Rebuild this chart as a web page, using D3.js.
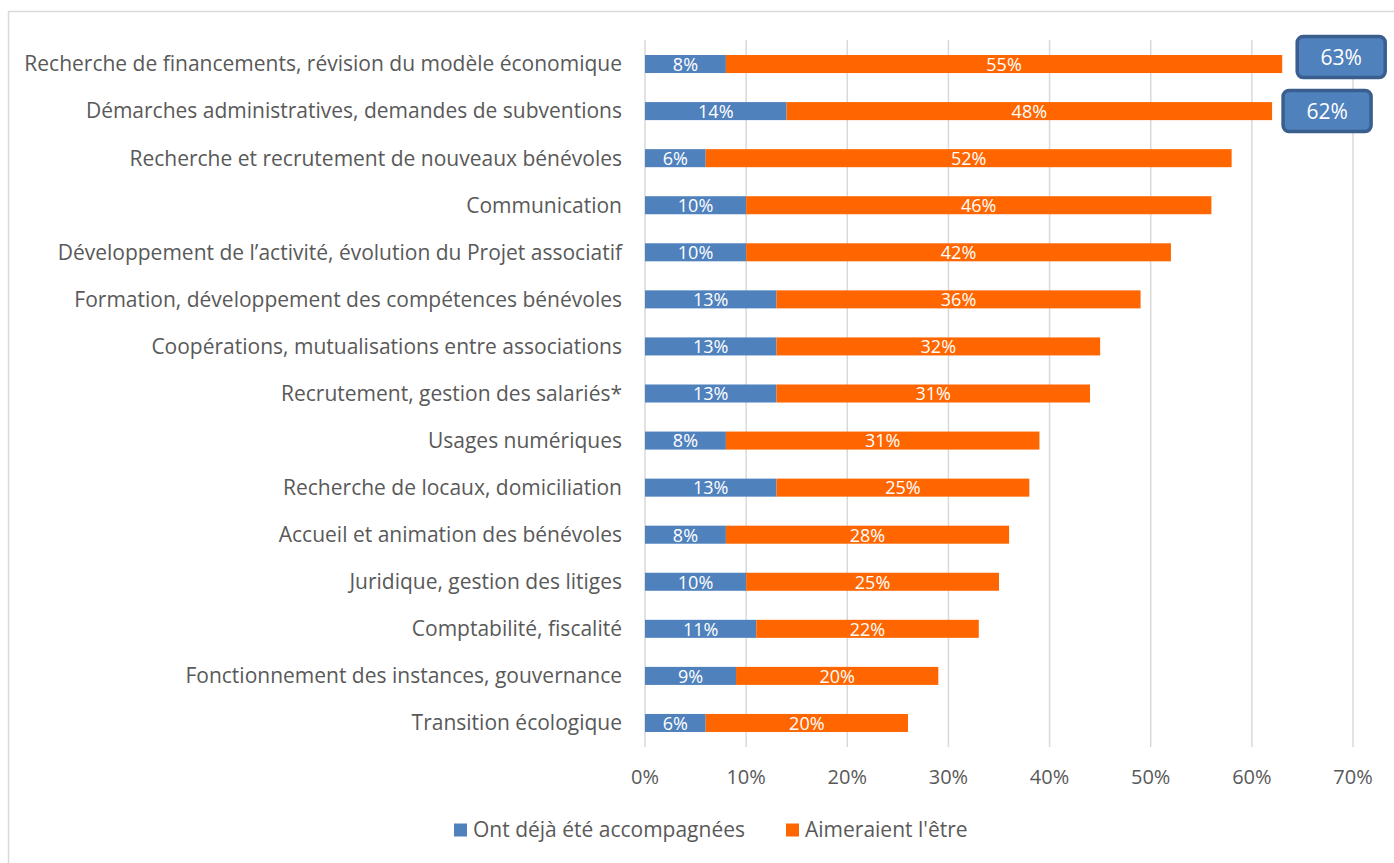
<!DOCTYPE html>
<html>
<head>
<meta charset="utf-8">
<script src="https://cdn.jsdelivr.net/npm/d3@7"></script>
<style>
  body { margin: 0; background: #fff; }
  svg { font-family: "Open Sans", "Noto Sans", sans-serif; }
</style>
</head>
<body>
<div id="chart"></div>
<script>
const categories = [
  'Recherche de financements, révision du modèle économique',
  'Démarches administratives, demandes de subventions',
  'Recherche et recrutement de nouveaux bénévoles',
  'Communication',
  'Développement de l\u2019activité, évolution du Projet associatif',
  'Formation, développement des compétences bénévoles',
  'Coopérations, mutualisations entre associations',
  'Recrutement, gestion des salariés*',
  'Usages numériques',
  'Recherche de locaux, domiciliation',
  'Accueil et animation des bénévoles',
  'Juridique, gestion des litiges',
  'Comptabilité, fiscalité',
  'Fonctionnement des instances, gouvernance',
  'Transition écologique'
];
const dejaAccompagnees = [8, 14, 6, 10, 10, 13, 13, 13, 8, 13, 8, 10, 11, 9, 6];
const aimeraientLEtre = [55, 48, 52, 46, 42, 36, 32, 31, 31, 25, 28, 25, 22, 20, 20];
const seriesNames = ['Ont déjà été accompagnées', "Aimeraient l'être"];
const xTicks = [0, 10, 20, 30, 40, 50, 60, 70];
// totals highlighted with a callout box
const callouts = [
  {index: 0, label: '63%'},
  {index: 1, label: '62%'}
];

const width = 1394, height = 863;
const colors = ['#4f81bd', '#ff6600'];

const svg = d3.select('#chart').append('svg')
  .attr('width', width)
  .attr('height', height);

// chart area border (runs off the right and bottom edge)
svg.append('rect')
  .attr('x', 8.5).attr('y', 11.5)
  .attr('width', width + 20).attr('height', height + 20)
  .attr('fill', 'none')
  .attr('stroke', '#d9d9d9')
  .attr('stroke-width', 1.5);

const x = d3.scaleLinear().domain([0, 70]).range([645, 1353]);
const y = d3.scaleBand().domain(categories).range([40.5, 746.5])
  .paddingInner(0.617).paddingOuter(0.3085);

// gridlines
svg.append('g')
  .selectAll('line')
  .data(xTicks)
  .join('line')
  .attr('x1', d => x(d)).attr('x2', d => x(d))
  .attr('y1', 40).attr('y2', 747)
  .attr('stroke', '#d9d9d9')
  .attr('stroke-width', 1.5);

// x axis labels
svg.append('g')
  .selectAll('text')
  .data(xTicks)
  .join('text')
  .attr('x', d => x(d))
  .attr('y', 784)
  .attr('text-anchor', 'middle')
  .attr('font-size', 20)
  .attr('fill', '#595959')
  .text(d => d + '%');

// category labels
svg.append('g')
  .selectAll('text')
  .data(categories)
  .join('text')
  .attr('x', 622)
  .attr('y', d => y(d) + y.bandwidth() / 2)
  .attr('dy', '0.35em')
  .attr('text-anchor', 'end')
  .attr('font-size', 21)
  .attr('fill', '#595959')
  .text(d => d);

// stacked bars
const rows = categories.map((c, i) => ({cat: c, a: dejaAccompagnees[i], b: aimeraientLEtre[i]}));
const stack = d3.stack().keys(['a', 'b'])(rows);

const layers = svg.append('g')
  .selectAll('g')
  .data(stack)
  .join('g')
  .attr('fill', (d, i) => colors[i]);

layers.selectAll('rect')
  .data(d => d)
  .join('rect')
  .attr('x', d => x(d[0]))
  .attr('y', d => y(d.data.cat))
  .attr('width', d => x(d[1]) - x(d[0]))
  .attr('height', y.bandwidth());

layers.selectAll('text')
  .data(d => d)
  .join('text')
  .attr('x', d => (x(d[0]) + x(d[1])) / 2)
  .attr('y', d => y(d.data.cat) + y.bandwidth() / 2)
  .attr('dy', '0.38em')
  .attr('text-anchor', 'middle')
  .attr('font-size', 18)
  .attr('fill', '#fff')
  .text(d => (d[1] - d[0]) + '%');

// callout boxes for the top two totals
const boxW = 88, boxH = 41;
const offsets = [{dx: 15, dy: -7}, {dx: 11, dy: 0}];
const cg = svg.append('g')
  .selectAll('g')
  .data(callouts)
  .join('g')
  .attr('transform', (d, i) => {
    const total = dejaAccompagnees[d.index] + aimeraientLEtre[d.index];
    const cy = y(categories[d.index]) + y.bandwidth() / 2 + offsets[i].dy;
    return `translate(${x(total) + offsets[i].dx},${cy - boxH / 2})`;
  });

cg.append('rect')
  .attr('width', boxW).attr('height', boxH)
  .attr('rx', 6).attr('ry', 6)
  .attr('fill', '#4f81bd')
  .attr('stroke', '#3a5f8f')
  .attr('stroke-width', 3.5);

cg.append('text')
  .attr('x', boxW / 2).attr('y', boxH / 2)
  .attr('dy', '0.36em')
  .attr('text-anchor', 'middle')
  .attr('font-size', 21)
  .attr('fill', '#fff')
  .text(d => d.label);

// legend
const legend = svg.append('g').attr('transform', 'translate(0,830)');
const legendX = [454, 786];
const lg = legend.selectAll('g')
  .data(seriesNames)
  .join('g')
  .attr('transform', (d, i) => `translate(${legendX[i]},0)`);
lg.append('rect')
  .attr('x', 0).attr('y', -6.5)
  .attr('width', 13).attr('height', 13)
  .attr('fill', (d, i) => colors[i]);
lg.append('text')
  .attr('x', 19).attr('y', 0)
  .attr('dy', '0.35em')
  .attr('font-size', 21)
  .attr('fill', '#595959')
  .text(d => d);
</script>
</body>
</html>
